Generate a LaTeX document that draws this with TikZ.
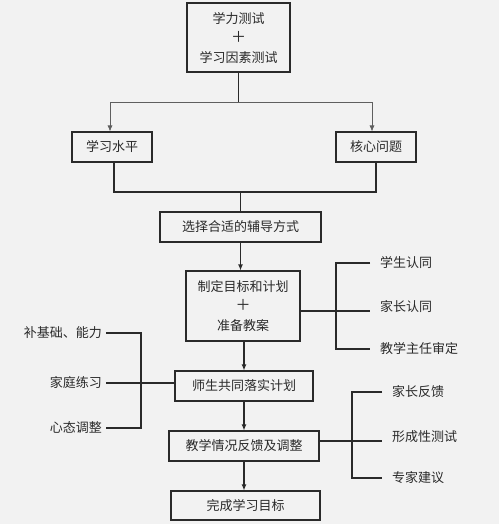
\documentclass[tikz,border=0pt]{standalone}
\usepackage{fontspec}
\newfontfamily\cjk{Noto Sans CJK SC}
\usetikzlibrary{arrows.meta}
\definecolor{bg}{HTML}{F2F2F2}
\definecolor{ink}{HTML}{2A2A2A}
\newcommand{\bigplus}{{\fontsize{15}{19.5}\selectfont ＋}}

\begin{document}
\begin{tikzpicture}[x=1pt, y=-1pt,
		font=\cjk\fontsize{13}{19.5}\selectfont,
		box/.style={draw=ink, line width=1.1pt, fill=bg, inner sep=0pt, align=center, text=ink},
		link/.style={draw=ink, line width=1.1pt},
		thin/.style={draw=ink!75, line width=0.7pt},
		arr/.style={-{Latex[length=6pt,width=5pt]}},
		lbl/.style={inner sep=0pt, text=ink}]
		\fill[bg] (0,0) rectangle (499,524);
		\useasboundingbox (0,0) rectangle (499,524);
		% main column
		\node[box, minimum width=103pt, minimum height=69pt] (test) at (238.5, 37.5) {学力测试\\\bigplus\\学习因素测试};
		\node[box, minimum width=80pt, minimum height=30pt] (level) at (112, 147) {学习水平};
		\node[box, minimum width=80pt, minimum height=30pt] (core) at (376, 147) {核心问题};
		\node[box, minimum width=161pt, minimum height=30pt] (choose) at (240.5, 227) {选择合适的辅导方式};
		\node[box, minimum width=114pt, minimum height=70pt] (plan) at (243, 306) {制定目标和计划\\\bigplus\\准备教案};
		\node[box, minimum width=138pt, minimum height=30pt] (exec) at (244, 386) {师生共同落实计划};
		\node[box, minimum width=150pt, minimum height=30pt] (fb) at (244, 446) {教学情况反馈及调整};
		\node[box, minimum width=149pt, minimum height=29pt] (done) at (245.5, 505.5) {完成学习目标};
		% side labels
		\foreach \n/\y/\t in {agree/263/学生认同, parent/307/家长认同, review/349/教学主任审定}
			\node[lbl, anchor=west] (\n) at (380, \y) {\t};
		\foreach \n/\y/\t in {basic/333/补基础、能力, home/383/家庭练习, calm/428/心态调整}
			\node[lbl, anchor=east] (\n) at (102, \y) {\t};
		\foreach \n/\y/\t in {pfb/392/家长反馈, quiz/437/形成性测试, expert/478/专家建议}
			\node[lbl, anchor=west] (\n) at (392, \y) {\t};
		% split and merge
		\coordinate (split) at (238.5, 102);
		\draw[link] (test.south) -- (split);
		\draw[thin, arr] (split) -| ([xshift=-2pt]level.north);
		\draw[thin, arr] (split) -| ([xshift=-4pt]core.north);
		\coordinate (merge) at (240.5, 192);
		\draw[link] ([xshift=2pt]level.south) |- (core.south |- merge) -- (core.south);
		\draw[link] (merge) -- (choose.north);
		% arrows down
		\draw[link, arr] (choose.south) -- (choose.south |- plan.north);
		\draw[link, arr] ([xshift=1pt]plan.south) -- ([xshift=1pt]plan.south |- exec.north);
		\draw[link, arr] (exec.south) -- (exec.south |- fb.north);
		\draw[link, arr] (fb.south) -- (fb.south |- done.north);
		% right bracket, plan
		\coordinate (bra) at (336, 311);
		\coordinate (bre) at (370, 311);
		\draw[link] (agree -| bre) -- (agree -| bra) -- (review -| bra) -- (review -| bre);
		\draw[link] (plan.east |- bra) -- (bre);
		% left bracket
		\coordinate (brl) at (141, 383);
		\draw[link] ([xshift=4pt]basic.east) -- (basic -| brl) -- (calm -| brl) -- ([xshift=4pt]calm.east);
		\draw[link] ([xshift=4pt]home.east) -- (home -| exec.west);
		% right bracket, feedback
		\coordinate (brr) at (352, 441);
		\coordinate (brre) at (382, 441);
		\draw[link] (pfb -| brre) -- (pfb -| brr) -- (expert -| brr) -- (expert -| brre);
		\draw[link] (fb.east |- brr) -- (brre);
	\end{tikzpicture}
\end{document}
